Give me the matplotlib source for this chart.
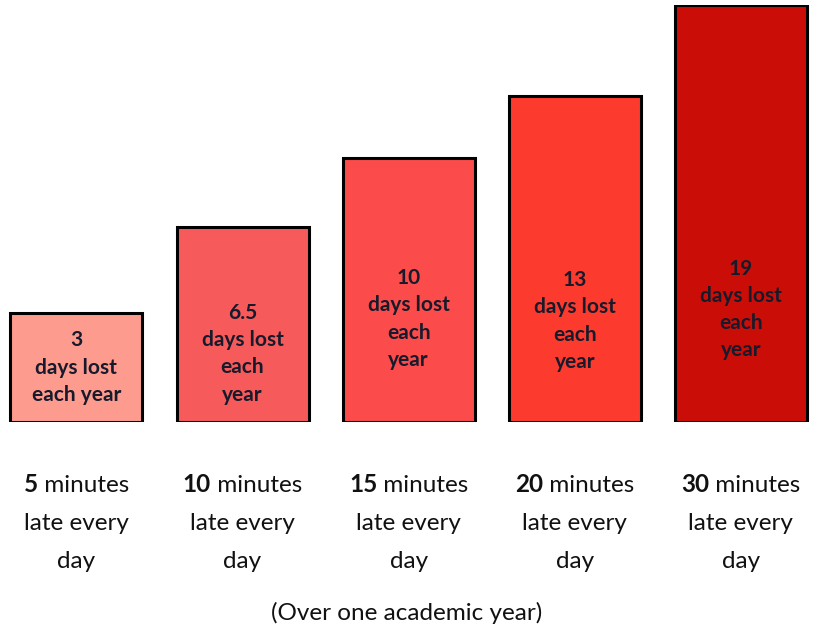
import matplotlib
matplotlib.use("Agg")
import matplotlib.pyplot as plt
from matplotlib.offsetbox import TextArea, HPacker, AnnotationBbox

plt.rcParams['font.family'] = ['Lato', 'DejaVu Sans']

# data
minutes_late = ["5", "10", "15", "20", "30"]
days_lost = ["3", "6.5", "10", "13", "19"]
bar_heights = [1.09, 1.95, 2.64, 3.26, 4.17]   # drawn heights
inside_labels = ["3\ndays lost\neach year",
                 "6.5\ndays lost\neach\nyear",
                 "10\ndays lost\neach\nyear",
                 "13\ndays lost\neach\nyear",
                 "19\ndays lost\neach\nyear"]
colors = ["#FE9B8F", "#F75A5A", "#FB4B4B", "#FC3B2E", "#CB0D08"]
label_frac = [0.50, 0.35, 0.39, 0.31, 0.27]
footnote = "(Over one academic year)"

W, H = 814, 630
fig = plt.figure(figsize=(W / 100, H / 100), dpi=100)
base_px, top_px = 422, 5
ax = fig.add_axes([0, (H - base_px) / H, 1, (base_px - top_px) / H])
ax.set_axis_off()

n = len(bar_heights)
x = list(range(n))
ax.bar(x, bar_heights, width=0.795, color=colors, edgecolor="black", linewidth=2.2)
ax.set_xlim(-0.46, n - 1 + 0.44)
ax.set_ylim(0, max(bar_heights))

for xi, h, lab, f in zip(x, bar_heights, inside_labels, label_frac):
    ax.text(xi, h * f, lab, ha="center", va="center", fontsize=15,
            fontweight="bold", color="#161a2a", linespacing=1.45)

# bottom category labels
fs = 17.5
lab_y = [(H - 484) / H, (H - 523) / H, (H - 562) / H]
for xi, m in zip(x, minutes_late):
    xf = ax.transData.transform((xi, 0))[0] / W
    t1 = TextArea(m, textprops=dict(fontsize=fs, fontweight="bold", color="#111111"))
    t2 = TextArea(" minutes", textprops=dict(fontsize=fs, color="#111111"))
    box = HPacker(children=[t1, t2], align="baseline", pad=0, sep=0)
    ab = AnnotationBbox(box, (xf, lab_y[0]), xycoords="figure fraction",
                        frameon=False, box_alignment=(0.5, 0.5), pad=0)
    fig.add_artist(ab)
    fig.text(xf, lab_y[1], "late every", ha="center", va="center", fontsize=fs, color="#111111")
    fig.text(xf, lab_y[2], "day", ha="center", va="center", fontsize=fs, color="#111111")

fig.text(407 / W, (H - 613) / H, footnote, ha="center", va="center", fontsize=fs, color="#111111")

fig.savefig("out.png", dpi=100, facecolor="white")
